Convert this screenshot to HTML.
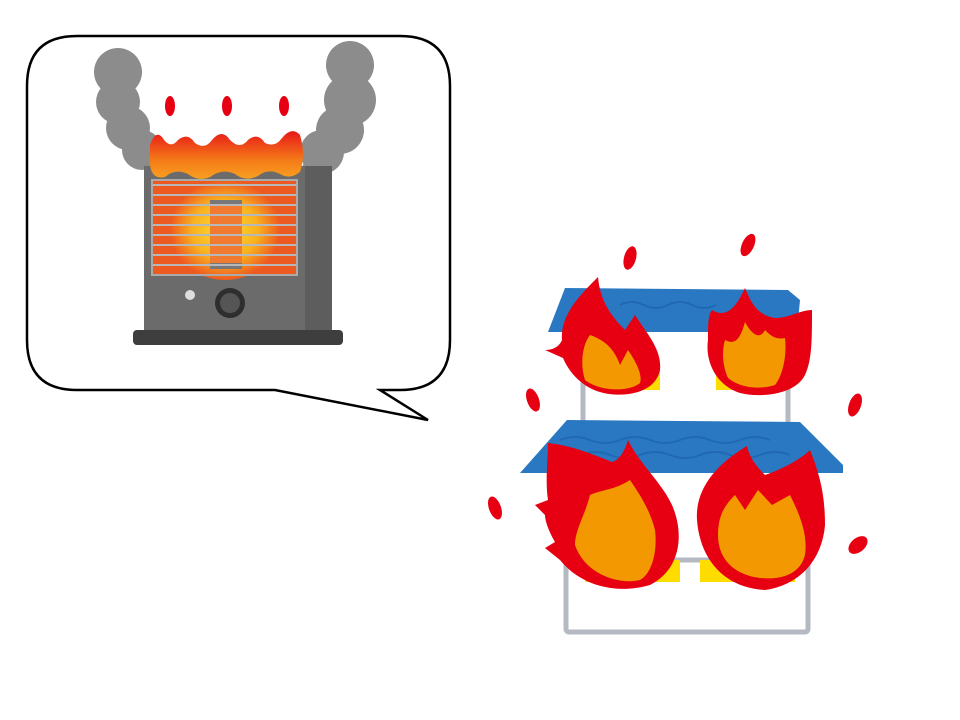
<!DOCTYPE html>
<html><head><meta charset="utf-8"><style>html,body{margin:0;padding:0;background:#fff}svg{display:block}</style></head>
<body>
<svg width="960" height="720" viewBox="0 0 960 720" xmlns="http://www.w3.org/2000/svg">
<defs>
<radialGradient id="glow" cx="0.5" cy="0.5" r="0.5"><stop offset="0" stop-color="#ffe030"/><stop offset="0.6" stop-color="#f8b020"/><stop offset="1" stop-color="#ee5a20"/></radialGradient>
<linearGradient id="fl" x1="0" y1="0" x2="0" y2="1"><stop offset="0" stop-color="#e81818"/><stop offset="0.6" stop-color="#f47a18"/><stop offset="1" stop-color="#f8a020"/></linearGradient>
</defs>
<path d="M77,36 H400 Q450,36 450,86 V340 Q450,390 400,390 H380 L428,420 L275,390 H77 Q27,390 27,340 V86 Q27,36 77,36 Z" fill="#fff" stroke="#000" stroke-width="2.5"/>
<g fill="#8c8c8c">
<circle cx="118" cy="72" r="24"/><circle cx="118" cy="102" r="22"/><circle cx="128" cy="128" r="22"/><circle cx="142" cy="150" r="20"/><circle cx="158" cy="160" r="14"/>
<circle cx="350" cy="65" r="24"/><circle cx="350" cy="100" r="26"/><circle cx="340" cy="130" r="24"/><circle cx="322" cy="152" r="22"/><circle cx="316" cy="170" r="14"/>
</g>
<rect x="144" y="166" width="188" height="166" fill="#6b6b6b"/>
<rect x="305" y="166" width="27" height="166" fill="#5d5d5d"/>
<rect x="133" y="330" width="210" height="15" rx="4" fill="#3e3e3e"/>
<rect x="152" y="180" width="145" height="95" fill="#ec5a22"/>
<ellipse cx="225" cy="230" rx="55" ry="50" fill="url(#glow)"/>
<rect x="210" y="200" width="32" height="68" fill="#f07a30"/>
<rect x="210" y="200" width="32" height="6" fill="#777"/>
<rect x="210" y="263" width="32" height="6" fill="#777"/>
<g stroke="#b8b8b8" stroke-width="2">
<line x1="152" y1="185" x2="297" y2="185"/><line x1="152" y1="195" x2="297" y2="195"/><line x1="152" y1="205" x2="297" y2="205"/><line x1="152" y1="215" x2="297" y2="215"/><line x1="152" y1="225" x2="297" y2="225"/><line x1="152" y1="235" x2="297" y2="235"/><line x1="152" y1="245" x2="297" y2="245"/><line x1="152" y1="255" x2="297" y2="255"/><line x1="152" y1="265" x2="297" y2="265"/>
</g>
<rect x="152" y="180" width="145" height="95" fill="none" stroke="#aaa" stroke-width="2"/>
<circle cx="190" cy="295" r="5" fill="#ddd"/>
<circle cx="230" cy="303" r="15" fill="#2e2e2e"/><circle cx="230" cy="303" r="10" fill="#555"/>
<path d="M150,145 Q155,130 162,137 Q170,150 178,140 Q188,132 195,143 Q205,150 212,140 Q222,128 230,140 Q240,150 248,140 Q258,132 265,143 Q275,148 282,138 Q292,126 300,135 Q306,155 300,172 Q290,180 280,174 Q268,168 258,176 Q245,182 235,174 Q222,168 210,177 Q198,182 188,174 Q175,168 165,177 Q152,180 150,165 Z" fill="url(#fl)"/>
<g fill="#e60012">
<ellipse cx="170" cy="106" rx="5" ry="10"/><ellipse cx="227" cy="106" rx="5" ry="10"/><ellipse cx="284" cy="106" rx="5" ry="10"/>
</g>
<!-- house frame -->
<g fill="none" stroke="#b5bac2" stroke-width="5">
<rect x="566" y="560" width="242" height="72" rx="3"/>
<line x1="583" y1="330" x2="583" y2="425"/><line x1="788" y1="330" x2="788" y2="425"/>
</g>
<g fill="#ffdc00">
<rect x="598" y="370" width="62" height="20"/><rect x="716" y="370" width="62" height="20"/>
<rect x="585" y="560" width="95" height="22"/><rect x="700" y="560" width="95" height="22"/>
</g>
<path d="M565,288 L788,290 L800,300 L797,332 L548,332 Z" fill="#2a78c2"/>
<path d="M567,420 L800,422 L843,465 L843,473 L520,473 Z" fill="#2a78c2"/>
<g fill="none" stroke="#1a5ea8" stroke-width="2" opacity="0.6">
<path d="M620,305 q12,-6 24,0 q12,6 24,0 q12,-6 24,0 q12,6 24,0"/>
<path d="M560,440 q15,-6 30,0 q15,6 30,0 q15,-6 30,0 q15,6 30,0 q15,-6 30,0 q15,6 30,0 q15,-6 30,0"/>
<path d="M580,455 q15,-6 30,0 q15,6 30,0 q15,-6 30,0 q15,6 30,0 q15,-6 30,0 q15,6 30,0 q15,-6 30,0"/>
</g>
<!-- flames -->
<g fill="#e60012">
<path d="M598,277 C600,300 610,315 625,330 L635,315 C648,335 662,350 660,370 C655,395 620,398 600,392 C585,388 570,375 563,358 L545,350 C555,350 560,345 562,340 C560,315 580,295 598,277 Z"/>
<path d="M745,288 C752,305 758,315 775,318 C790,318 800,310 812,310 C812,340 812,360 805,375 C795,395 760,398 740,393 C715,385 705,360 708,340 C708,325 708,315 712,310 C725,318 735,310 745,288 Z"/>
<path d="M548,443 C570,445 595,455 612,462 C620,460 625,450 628,440 C640,465 660,480 672,505 C685,535 680,570 650,585 C615,595 580,585 560,560 L545,548 L555,542 C548,530 545,520 545,515 L535,505 L548,500 C545,480 548,460 548,443 Z"/>
<path d="M747,446 C750,460 760,470 765,475 C780,470 800,460 810,450 C820,475 825,495 825,525 C822,560 800,585 765,590 C725,588 700,560 697,520 C695,490 715,465 747,446 Z"/>
<ellipse cx="630" cy="258" rx="6" ry="12" transform="rotate(15 630 258)"/><ellipse cx="748" cy="245" rx="6" ry="12" transform="rotate(25 748 245)"/>
<ellipse cx="533" cy="400" rx="6" ry="12" transform="rotate(-20 533 400)"/><ellipse cx="855" cy="405" rx="6" ry="12" transform="rotate(20 855 405)"/>
<ellipse cx="495" cy="508" rx="6" ry="12" transform="rotate(-20 495 508)"/><ellipse cx="858" cy="545" rx="7" ry="11" transform="rotate(50 858 545)"/>
</g>
<g fill="#f39800">
<path d="M590,335 C605,340 615,350 620,365 L628,350 C635,360 643,375 640,383 C630,392 600,392 585,380 C580,365 582,345 590,335 Z"/>
<path d="M725,340 C735,345 740,340 745,322 C752,335 760,340 765,330 C770,335 775,340 785,338 C787,355 783,375 775,385 C760,390 740,388 728,378 C722,365 722,350 725,340 Z"/>
<path d="M590,495 C600,490 615,490 630,480 C640,495 650,510 655,530 C658,555 650,575 640,580 C620,585 585,575 575,545 C575,530 585,515 590,495 Z"/>
<path d="M735,495 L745,510 L758,490 L772,505 L790,495 C800,515 808,535 805,555 C800,575 780,580 760,578 C735,575 718,560 718,535 C718,515 725,505 735,495 Z"/>
</g>
</svg>
</body></html>
